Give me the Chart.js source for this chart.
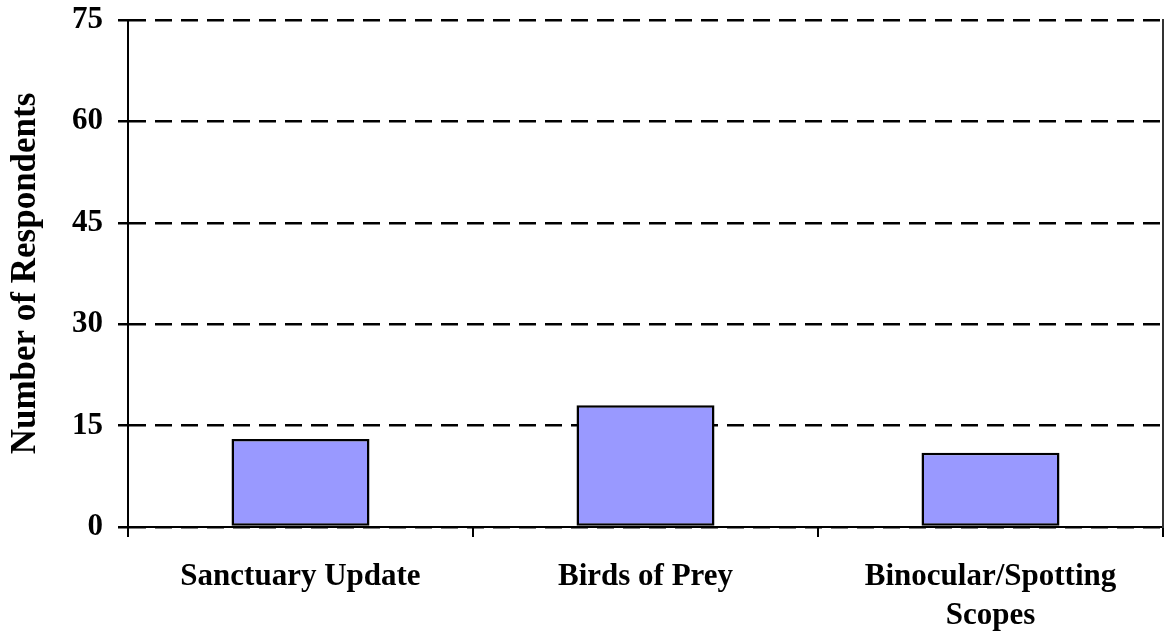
<!DOCTYPE html>
<html>
<head>
<meta charset="utf-8">
<script src="https://cdn.jsdelivr.net/npm/chart.js@4/dist/chart.umd.min.js"></script>
<style>
  html, body { margin: 0; padding: 0; background: #fff; }
  #wrap { width: 1169px; height: 638px; }
</style>
</head>
<body>
<div id="wrap"><canvas id="chart"></canvas></div>
<script>
// Chart data
const categories = ['Sanctuary Update', 'Birds of Prey', ['Binocular/Spotting', 'Scopes']];
const respondents = [13, 18, 11];
const yTicks = [0, 15, 30, 45, 60, 75];

const serif = "'Liberation Serif', 'Times New Roman', serif";

const ctx = document.getElementById('chart').getContext('2d');
const chart = new Chart(ctx, {
    type: 'bar',
    data: {
        labels: categories,
        datasets: [{
            label: 'Number of Respondents',
            data: respondents,
            backgroundColor: '#9999ff',
            borderColor: '#000000',
            borderWidth: 2.5,
            borderSkipped: false,
            barPercentage: 0.4,
            categoryPercentage: 1.0
        }]
    },
    options: {
        responsive: true,
        maintainAspectRatio: false,
        animation: false,
        layout: { padding: { top: 20, right: 6, bottom: 0, left: 0 } },
        plugins: {
            legend: { display: false },
            tooltip: { enabled: false }
        },
        scales: {
            x: {
                grid: {
                    offset: true,
                    drawOnChartArea: false,
                    drawTicks: true,
                    tickLength: 10,
                    color: '#000',
                    lineWidth: 2
                },
                border: { color: '#000', width: 2 },
                ticks: {
                    color: '#000',
                    padding: 21,
                    maxRotation: 0,
                    autoSkip: false,
                    font: { family: serif, size: 31, weight: 'bold', lineHeight: 1.25 }
                },
                afterFit: (scale) => { scale.height = 111; scale.paddingLeft = 0; scale.paddingRight = 0; }
            },
            y: {
                min: 0,
                max: 75,
                afterBuildTicks: (scale) => { scale.ticks = yTicks.map(v => ({ value: v })); },
                grid: {
                    color: '#000',
                    lineWidth: 2.5,
                    tickLength: 10,
                    tickColor: '#000'
                },
                border: { color: '#000', width: 2, dash: [17, 9] },
                ticks: {
                    color: '#000',
                    padding: 15,
                    font: { family: serif, size: 31, weight: 'bold' }
                },
                title: {
                    display: true,
                    text: 'Number of Respondents',
                    color: '#000',
                    padding: { top: 5, bottom: 0 },
                    font: { family: serif, size: 35, weight: 'bold', lineHeight: 1.2 }
                },
                afterFit: (scale) => { scale.width = 128; scale.paddingTop = 0; scale.paddingBottom = 0; }
            },
            y2: {
                position: 'right',
                min: 0,
                max: 75,
                grid: { drawOnChartArea: false, drawTicks: false },
                border: { color: '#333', width: 2 },
                ticks: { display: false },
                afterFit: (scale) => { scale.width = 0; scale.paddingTop = 0; scale.paddingBottom = 0; }
            }
        }
    }
});
</script>
</body>
</html>
